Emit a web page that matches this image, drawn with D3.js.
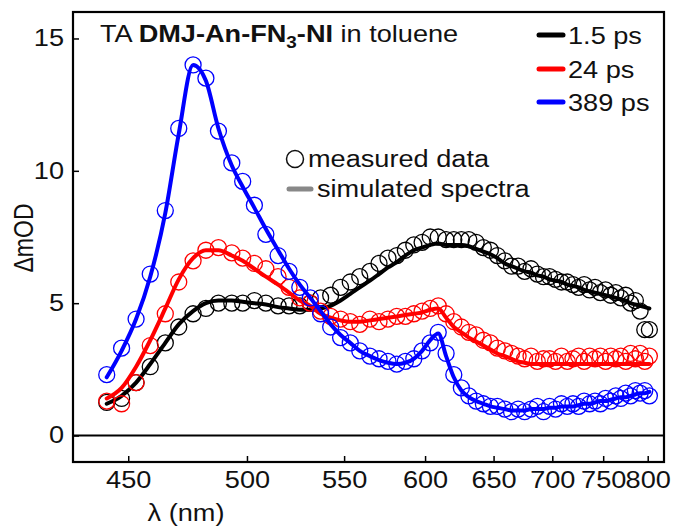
<!DOCTYPE html>
<html>
<head>
<meta charset="utf-8">
<style>
  body { margin: 0; background: #fff; }
  text { font-family: "Liberation Sans", Arial, sans-serif; fill: #111; }
</style>
</head>
<body>
<div id="chart"></div>
<script src="https://cdn.jsdelivr.net/npm/d3@7"></script>
<script>
// wavelength grid (nm) for measured points and simulated spectra
var wavelengths = [442, 447.5, 453, 458.5, 464.5, 470, 476, 481.5, 487, 493, 498, 503.5, 509, 515, 520.5, 526, 531.5, 537, 542.5, 548,
  553.5, 559, 565, 570.5, 576, 581.5, 587, 592.5, 598, 603.5, 609, 614.5, 620, 625.5, 631, 636.5, 642, 647.5, 653, 659,
  664.5, 670, 675.5, 681, 686.5, 692, 697.5, 703, 708.5, 714, 719.5, 725, 730.5, 736, 741.5, 747, 752.5, 758, 763.5, 769,
  774.5, 780, 785.5, 791, 796.5, 802];

var seriesNames = ["1.5 ps", "24 ps", "389 ps"];
var seriesColors = ["#000000", "#ff0000", "#0000ff"];

// simulated spectra (mOD)
var sim_1_5ps = [1.2, 1.5, 2.0, 2.7, 3.5, 4.2, 4.7, 5.0, 5.1, 5.1, 5.05, 5.0, 4.95, 4.85, 4.8, 4.75, 4.75, 4.8, 4.9, 5.1,
  5.35, 5.6, 5.85, 6.1, 6.35, 6.55, 6.8, 7.0, 7.1, 7.2, 7.25, 7.2, 7.2, 7.2, 7.15, 7.05, 6.95, 6.85, 6.7, 6.5,
  6.4, 6.3, 6.2, 6.15, 6.05, 6.0, 5.9, 5.85, 5.8, 5.7, 5.65, 5.6, 5.5, 5.45, 5.4, 5.35, 5.3, 5.25, 5.2, 5.15,
  5.1, 5.0, 4.95, 4.9, 4.85, 4.8];
var sim_24ps = [1.4, 1.8, 2.6, 3.6, 4.8, 5.9, 6.7, 7.0, 7.0, 6.8, 6.6, 6.3, 6.0, 5.7, 5.4, 5.1, 4.9, 4.6, 4.45, 4.35,
  4.3, 4.3, 4.35, 4.4, 4.45, 4.5, 4.55, 4.6, 4.65, 4.75, 4.8, 4.45, 4.1, 3.9, 3.7, 3.55, 3.4, 3.25, 3.1, 3.0,
  2.9, 2.8, 2.75, 2.7, 2.7, 2.7, 2.7, 2.7, 2.7, 2.7, 2.7, 2.7, 2.7, 2.7, 2.7, 2.7, 2.7, 2.7, 2.7, 2.7,
  2.7, 2.7, 2.7, 2.7, 2.7, 2.7];
var sim_389ps = [2.2, 3.2, 4.4, 6.0, 8.4, 11.4, 14.0, 13.4, 11.6, 10.2, 9.4, 8.6, 7.8, 7.0, 6.3, 5.7, 5.2, 4.7, 4.2, 3.8,
  3.5, 3.2, 3.0, 2.85, 2.75, 2.7, 2.75, 2.9, 3.2, 3.6, 3.85, 3.0, 2.2, 1.7, 1.45, 1.3, 1.2, 1.1, 1.05, 1.0,
  0.95, 0.95, 0.95, 1.0, 1.0, 1.0, 1.05, 1.05, 1.1, 1.1, 1.1, 1.15, 1.2, 1.2, 1.25, 1.3, 1.3, 1.35, 1.4, 1.45,
  1.45, 1.5, 1.55, 1.6, 1.6, 1.65];

// measured data (mOD)
var meas_1_5ps = [1.25, 1.4, 2.0, 2.6, 3.5, 4.1, 4.6, 4.8, 5.0, 5.0, 5.0, 5.1, 5.0, 4.9, 4.9, 4.9, 5.0, 5.2, 5.3, 5.6,
  5.8, 6.0, 6.2, 6.5, 6.7, 6.8, 7.0, 7.2, 7.3, 7.5, 7.5, 7.4, 7.4, 7.4, 7.4, 7.3, 7.1, 7.0, 6.8, 6.6,
  6.4, 6.4, 6.2, 6.3, 6.1, 6.0, 6.0, 5.9, 5.8, 5.8, 5.7, 5.6, 5.7, 5.5, 5.6, 5.4, 5.5, 5.3, 5.4, 5.2,
  5.3, 5.0, 5.1, 4.7, 4.0, 4.0];
var meas_24ps = [1.3, 1.2, 2.0, 3.4, 4.6, 5.8, 6.6, 7.0, 7.1, 6.9, 6.7, 6.5, 6.3, 6.0, 5.6, 5.2, 5.0, 4.7, 4.5, 4.4,
  4.3, 4.2, 4.4, 4.3, 4.4, 4.5, 4.5, 4.6, 4.7, 4.8, 4.9, 4.6, 4.3, 4.1, 3.9, 3.8, 3.6, 3.5, 3.3, 3.2,
  3.1, 3.0, 2.9, 3.0, 2.8, 2.9, 2.9, 2.8, 3.0, 2.8, 2.9, 3.0, 2.8, 3.0, 2.9, 3.0, 2.8, 3.0, 2.9, 3.0,
  2.8, 3.1, 2.9, 3.1, 2.8, 3.0];
var meas_389ps = [2.3, 3.3, 4.4, 6.1, 8.5, 11.6, 14.0, 13.5, 11.5, 10.3, 9.6, 8.7, 7.6, 6.8, 6.2, 5.6, 5.2, 4.6, 4.1, 3.7,
  3.5, 3.2, 3.0, 2.9, 2.8, 2.7, 2.8, 2.9, 3.2, 3.5, 3.9, 3.1, 2.3, 1.8, 1.5, 1.3, 1.2, 1.1, 1.1, 1.0,
  0.9, 1.0, 0.9, 1.0, 1.1, 0.9, 1.1, 1.0, 1.2, 1.1, 1.2, 1.1, 1.3, 1.2, 1.3, 1.2, 1.4, 1.3, 1.5, 1.4,
  1.6, 1.5, 1.7, 1.6, 1.7, 1.5];

var xTickLabels = [450, 500, 550, 600, 650, 700, 750, 800];
var yTickLabels = [0, 5, 10, 15];

var simulated = [sim_1_5ps, sim_24ps, sim_389ps];
var measured = [meas_1_5ps, meas_24ps, meas_389ps];

var W = 673, H = 526;
var plotLeft = 73, plotRight = 664, plotTop = 12, plotBottom = 462;
var SX = 1.18; // text in the figure is a bit wider than plain Arial
var FS = 23;

var svg = d3.select("#chart").append("svg")
  .attr("width", W).attr("height", H);

// x axis is linear in energy (1/lambda), labelled in nm
var x = d3.scaleLinear().domain([1e7 / 430, 1e7 / 820]).range([plotLeft, plotRight]);
var xl = function(l) { return x(1e7 / l); };
var y = d3.scaleLinear().domain([-1, 16]).range([plotBottom, plotTop]);

function stretch(sel) {
  sel.each(function() {
    var w = this.getComputedTextLength();
    d3.select(this).attr("textLength", w * SX).attr("lengthAdjust", "spacingAndGlyphs");
  });
}

// zero line
svg.append("line")
  .attr("x1", plotLeft).attr("x2", plotRight)
  .attr("y1", y(0)).attr("y2", y(0))
  .attr("stroke", "#000").attr("stroke-width", 2);

var gx = svg.append("g")
  .attr("transform", "translate(0," + plotBottom + ")")
  .call(d3.axisBottom(x)
    .tickValues(xTickLabels.map(function(l) { return 1e7 / l; }))
    .tickFormat(function(d) { return Math.round(1e7 / d); })
    .tickSizeInner(-6).tickSizeOuter(0).tickPadding(10));
gx.select(".domain").remove();
gx.selectAll(".tick line").attr("stroke", "#000").attr("stroke-width", 1.5);
gx.selectAll(".tick text").attr("font-size", FS).attr("font-family", null).attr("fill", "#111");

var gy = svg.append("g")
  .attr("transform", "translate(" + plotLeft + ",0)")
  .call(d3.axisLeft(y).tickValues(yTickLabels)
    .tickSizeInner(-6).tickSizeOuter(0).tickPadding(9));
gy.select(".domain").remove();
gy.selectAll(".tick line").attr("stroke", "#000").attr("stroke-width", 1.5);
gy.selectAll(".tick text").attr("font-size", FS).attr("font-family", null).attr("fill", "#111");
stretch(gx.selectAll(".tick text"));
stretch(gy.selectAll(".tick text"));

// frame
svg.append("rect")
  .attr("x", plotLeft).attr("y", plotTop)
  .attr("width", plotRight - plotLeft).attr("height", plotBottom - plotTop)
  .attr("fill", "none").attr("stroke", "#000").attr("stroke-width", 2.2);

var line = d3.line()
  .x(function(d, i) { return xl(wavelengths[i]); })
  .y(function(d) { return y(d); })
  .curve(d3.curveMonotoneX);

seriesNames.forEach(function(name, s) {
  svg.append("g").selectAll("circle")
    .data(measured[s]).enter().append("circle")
    .attr("cx", function(d, i) { return xl(wavelengths[i]); })
    .attr("cy", function(d) { return y(d); })
    .attr("r", 8)
    .attr("fill", "none")
    .attr("stroke", seriesColors[s])
    .attr("stroke-width", 1.3);
  svg.append("path")
    .datum(simulated[s])
    .attr("d", line)
    .attr("fill", "none")
    .attr("stroke", seriesColors[s])
    .attr("stroke-width", 4)
    .attr("stroke-linejoin", "round")
    .attr("stroke-linecap", "round");
});

// title
var title = svg.append("g").attr("transform", "translate(100,42) scale(" + SX + ",1)")
  .append("text").attr("font-size", FS);
title.append("tspan").text("TA ");
title.append("tspan").attr("font-weight", "bold").text("DMJ-An-FN");
title.append("tspan").attr("font-weight", "bold").attr("font-size", 16).attr("dy", 6).text("3");
title.append("tspan").attr("font-weight", "bold").attr("dy", -6).text("-NI");
title.append("tspan").text(" in toluene");

// series legend
var legY = [35, 69, 102];
seriesNames.forEach(function(name, s) {
  svg.append("line")
    .attr("x1", 539).attr("x2", 563)
    .attr("y1", legY[s]).attr("y2", legY[s])
    .attr("stroke", seriesColors[s]).attr("stroke-width", 5)
    .attr("stroke-linecap", "round");
  svg.append("text")
    .attr("x", 568).attr("y", legY[s] + 9)
    .attr("font-size", FS)
    .text(name);
});

// marker legend
svg.append("circle")
  .attr("cx", 295).attr("cy", 159).attr("r", 8.5)
  .attr("fill", "none").attr("stroke", "#111").attr("stroke-width", 1.5);
svg.append("text").attr("x", 308).attr("y", 167).attr("font-size", FS).text("measured data");
svg.append("line")
  .attr("x1", 289).attr("x2", 311).attr("y1", 189).attr("y2", 189)
  .attr("stroke", "#888").attr("stroke-width", 5).attr("stroke-linecap", "round");
svg.append("text").attr("x", 317).attr("y", 197).attr("font-size", FS).text("simulated spectra");
stretch(svg.selectAll(":scope > text"));

// axis titles
svg.append("text")
  .attr("x", 186).attr("y", 521)
  .attr("text-anchor", "middle").attr("font-size", FS)
  .text("λ (nm)")
  .call(stretch);
svg.append("g").attr("transform", "translate(33,238) scale(" + SX + ",1) rotate(-90)")
  .append("text")
  .attr("text-anchor", "middle").attr("font-size", FS)
  .text("ΔmOD");
</script>
</body>
</html>
